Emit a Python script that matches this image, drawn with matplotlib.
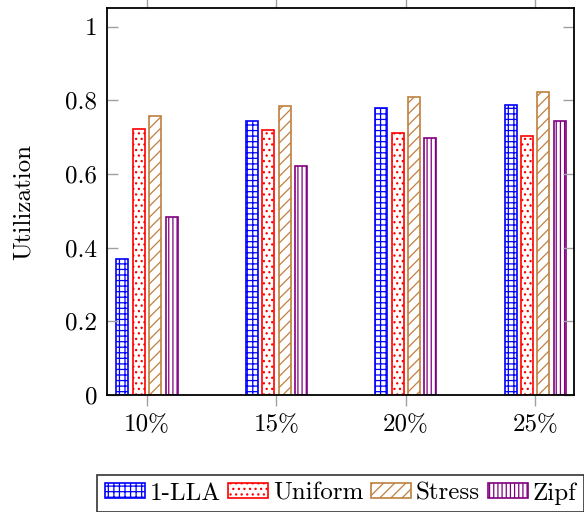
import numpy as np
import matplotlib
matplotlib.use("Agg")
import matplotlib.pyplot as plt

plt.rcParams["font.family"] = "serif"
plt.rcParams["font.serif"] = ["cmr10", "DejaVu Serif"]
plt.rcParams["axes.formatter.use_mathtext"] = True
plt.rcParams["hatch.linewidth"] = 0.9

categories = ["10%", "15%", "20%", "25%"]
series_names = ["1-LLA", "Uniform", "Stress", "Zipf"]
lla = [0.37, 0.745, 0.78, 0.788]
uniform = [0.723, 0.72, 0.712, 0.704]
stress = [0.758, 0.785, 0.81, 0.823]
zipf = [0.484, 0.622, 0.698, 0.745]
ytick_values = [0, 0.2, 0.4, 0.6, 0.8, 1]
ytick_labels = ["0", "0.2", "0.4", "0.6", "0.8", "1"]

series = [lla, uniform, stress, zipf]
colors = ["#0000ff", "#ff0000", "#bf8040", "#800080"]
hatches = ["+++", "...", "///", "||||"]

FS = 18

fig = plt.figure(figsize=(5.84, 5.12), dpi=100)
ax = fig.add_axes([0.1832, 0.2285, 0.7997, 0.7555])

x = np.arange(len(categories))
width = 0.093
step = 0.127
offsets = (np.arange(len(series)) - 1.5) * step

for vals, name, col, h, off in zip(series, series_names, colors, hatches, offsets):
    ax.bar(x + off, vals, width, label=name, facecolor="white",
           edgecolor=col, hatch=h, linewidth=1.2)

ax.set_xlim(-0.309, 3.30)
ax.set_ylim(0, 1.05)
ax.set_xticks(x)
ax.set_xticklabels(categories, fontsize=FS)
ax.set_yticks(ytick_values)
ax.set_yticklabels(ytick_labels, fontsize=FS)

ax.tick_params(axis="x", direction="out", length=8, width=1, color="#a0a0a0",
               top=True, bottom=True, pad=6)
ax.tick_params(axis="y", direction="in", length=8, width=1, color="#a0a0a0",
               left=True, right=True, pad=7)
for s in ax.spines.values():
    s.set_linewidth(1.3)
    s.set_color("black")

ax.set_ylabel("Utilization", fontsize=FS, labelpad=22)

leg = ax.legend(loc="upper center", bbox_to_anchor=(0.5, -0.206), ncol=4,
                fontsize=FS, frameon=True, fancybox=False, edgecolor="black",
                handlelength=1.6, handleheight=0.55, handletextpad=0.2,
                columnspacing=0.3, borderpad=0.3, borderaxespad=0)
leg.get_frame().set_linewidth(1.2)

fig.savefig("out.png", dpi=100)
